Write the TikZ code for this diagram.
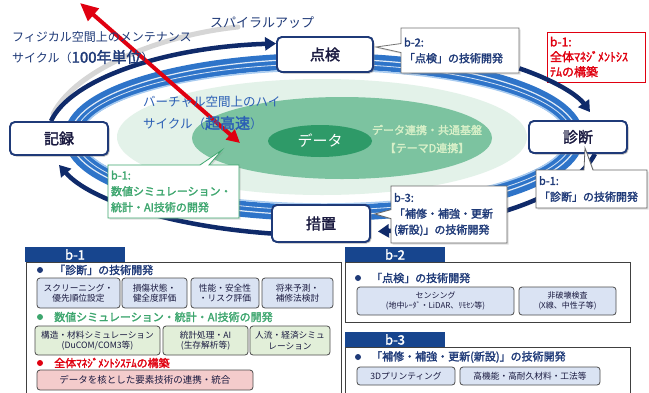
\documentclass[tikz,border=0pt]{standalone}
\usepackage{fontspec}
\setmainfont{Noto Sans CJK JP}[AutoFakeBold=2]
\usetikzlibrary{arrows.meta,shapes.callouts,shadows,calc}
\definecolor{navy}{HTML}{1F3A78}
\definecolor{dnavy}{HTML}{0F2A6A}
\definecolor{ringblue}{HTML}{2E74C9}
\definecolor{lightring}{HTML}{A8CBF0}
\definecolor{vblue}{HTML}{2B5FB5}
\definecolor{lgreen}{HTML}{E3F2E9}
\definecolor{mgreen}{HTML}{7CC3A0}
\definecolor{dgreen}{HTML}{2E9A68}
\definecolor{paletxt}{HTML}{D8F0C8}
\definecolor{cgreen}{HTML}{3DA66E}
\definecolor{redc}{HTML}{E00010}
\definecolor{tabnavy}{HTML}{17458E}
\definecolor{boxblue}{HTML}{DAE3F3}
\definecolor{boxgreen}{HTML}{E2EFD9}
\definecolor{boxpink}{HTML}{F4CCCC}
\definecolor{boxtxt}{HTML}{1A1A40}
\begin{document}
\begin{tikzpicture}[x=1pt,y=1pt,
  cyclebox/.style={draw=navy, line width=1.8pt, rounded corners=5pt, fill=white,
    font=\fontsize{15}{18}\selectfont\bfseries, text=boxtxt, inner sep=0pt,
    drop shadow={shadow xshift=1.5pt, shadow yshift=-1.5pt, opacity=.3}},
  callbox/.style={rectangle callout, draw=black!60, line width=0.8pt, fill=white,
    align=left, font=\fontsize{11}{16}\selectfont\bfseries, text=navy, inner sep=3pt,
    callout pointer width=9pt,
    drop shadow={shadow xshift=1.5pt, shadow yshift=-1.5pt, opacity=.25}},
  navyarc/.style={dnavy, line width=4.5pt, -{Triangle[width=13pt,length=11pt]}},
  panel/.style={draw=black!75, line width=0.9pt, fill=white, inner sep=0pt},
  tabbox/.style={fill=tabnavy, text=white, font=\fontsize{13}{13}\selectfont\bfseries,
    minimum width=100pt, inner sep=0pt},
  itemb/.style={draw=black!70, line width=0.8pt, rounded corners=3pt, align=center,
    inner sep=0pt, text=boxtxt, font=\fontsize{8.7}{10.5}\selectfont},
  hdr/.style={anchor=west, inner sep=0pt, font=\fontsize{11}{13}\selectfont\bfseries},
  bul/.style={circle, inner sep=0pt, minimum size=6pt}
]
\useasboundingbox (0,0) rectangle (649,-392);
\fill[white] (0,0) rectangle (649,-392);
\clip (0,0) rectangle (649,-392);

% green ellipses
\fill[lgreen] (322,-137) ellipse [x radius=205, y radius=58];
\fill[mgreen] (342,-138) ellipse [x radius=150, y radius=41];
\fill[dgreen] (320,-141) ellipse [x radius=52, y radius=16];

% blue ring
\draw[ringblue, line width=16pt] (324,-137) ellipse [x radius=252, y radius=76];
\draw[white, line width=1.2pt, opacity=.85] (324,-137) ellipse [x radius=254, y radius=78];
\draw[white, line width=0.8pt, opacity=.8] (324,-137) ellipse [x radius=249, y radius=73];
\draw[lightring, line width=1.5pt] (324,-137) ellipse [x radius=243, y radius=67];

% texts in the centre
\node[text=white, font=\fontsize{15}{15}\selectfont] (data) at (320,-141) {データ};
\node[text=paletxt, font=\fontsize{11}{13}\selectfont\bfseries] (base1) at (427,-130) {データ連携・共通基盤};
\node[text=paletxt, font=\fontsize{11}{13}\selectfont\bfseries] (base2) at (427,-148) {【テーマD連携】};

% cycle boxes
\node[cyclebox, minimum width=98pt, minimum height=33pt] (kiroku) at (59,-138.5) {記録};
\node[cyclebox, minimum width=96pt, minimum height=35pt] (tenken) at (325,-54.5) {点検};
\node[cyclebox, minimum width=98pt, minimum height=32pt] (shindan) at (578,-137) {診断};
\node[cyclebox, minimum width=98pt, minimum height=37pt] (sochi) at (321,-223.5) {措置};

% callouts
\node[callbox, draw=black!55, text width=112pt, minimum height=45pt,
  callout absolute pointer={(376,-47)}] (b2c) at (460,-50.5) {b-2:\\「点検」の技術開発};
\node[draw=redc, line width=0.9pt, fill=white, text=redc, align=left, text width=92pt,
  minimum height=50pt, inner sep=3pt, font=\fontsize{12}{15}\selectfont\bfseries]
  (b1r) at (596,-57) {b-1:\\全体ﾏﾈｼﾞﾒﾝﾄｼｽ\\ﾃﾑの構築};

% navy cycle arrows
\draw[gray!40, line width=5pt, opacity=.8, line cap=round] ([xshift=-6pt,yshift=7pt]kiroku.north)
  .. controls (75,-70) and (160,-35) .. (238,-27);
\draw[navyarc] ([xshift=-8pt]kiroku.north) .. controls (70,-80) and (161.5,-47.3) .. ([yshift=11pt]tenken.west);
\draw[navyarc] ([yshift=5pt]b2c.south east) .. controls (553.3,-79.9) and (577.4,-94.6) .. ([xshift=12pt,yshift=8pt]shindan.north);
\draw[navyarc] ([xshift=17pt]shindan.south) .. controls (573.7,-194.7) and (487.1,-225.6) .. ([xshift=7pt,yshift=-8pt]sochi.east);
\draw[navyarc] ([yshift=-10pt]sochi.west) .. controls (171.6,-226.4) and (89.9,-200.4) .. ([yshift=-9pt]kiroku.south);

% redraw boxes on top of arcs
\node[cyclebox, minimum width=98pt, minimum height=33pt] at (kiroku) {記録};
\node[cyclebox, minimum width=96pt, minimum height=35pt] at (tenken) {点検};
\node[cyclebox, minimum width=98pt, minimum height=32pt] at (shindan) {診断};
\node[cyclebox, minimum width=98pt, minimum height=37pt] at (sochi) {措置};

% red double arrow
\coordinate (redA) at (80,-3);
\coordinate (redB) at (240,-143);
\draw[redc, line width=4pt, {Triangle[width=16pt,length=18pt]}-{Triangle[width=13pt,length=13pt]}] (redA) -- (redB);

% top-left texts
\node[anchor=west, inner sep=0pt, text=navy, font=\fontsize{13}{15}\selectfont] (spiral) at (210,-23) {スパイラルアップ};
\node[anchor=west, inner sep=0pt, text=navy, font=\fontsize{12}{14}\selectfont] (phys1) at (12,-37) {フィジカル空間上のメンテナンス};
\node[anchor=west, inner sep=0pt, text=navy, font=\fontsize{12}{14}\selectfont] (phys2) at (12,-57) {サイクル（{\fontsize{15}{15}\selectfont\bfseries 100年単位}）};
\node[anchor=west, inner sep=0pt, text=vblue, font=\fontsize{12.5}{14}\selectfont] (virt1) at (143,-102) {バーチャル空間上のハイ};
\node[anchor=west, inner sep=0pt, text=vblue, font=\fontsize{12.5}{14}\selectfont] (virt2) at (143,-123) {サイクル（{\fontsize{15}{15}\selectfont\bfseries 超高速}）};

% callouts with pointers
\node[callbox, draw=cgreen, text=cgreen, text width=125pt, minimum height=53pt,
  callout absolute pointer={(222,-150)}] (b1g) at (173.5,-191.5) {b-1:\\数値シミュレーション・\\統計・AI技術の開発};
\node[callbox, text width=105pt, minimum height=38pt,
  callout absolute pointer={(585,-148)}] (b1d) at (591.5,-189) {b-1:\\「診断」の技術開発};
\node[callbox, text width=110pt, minimum height=57pt,
  callout absolute pointer={(375,-214)}] (b3c) at (449,-214.5) {b-3:\\「補修・補強・更新\\(新設)」の技術開発};

% ===== bottom panels =====
% b-1
\node[panel, minimum width=315pt, minimum height=140pt] (p1) at (183.5,-332) {};
\node[tabbox, minimum height=15pt] (t1) at (75,-254.5) {b-1\hspace{6pt}};
\node[bul, fill=navy] (u1) at (40,-270) {};
\node[hdr, text=navy] (h1) at (54,-270) {「診断」の技術開発};
\node[itemb, fill=boxblue, minimum width=83pt, minimum height=30pt] (i11) at (78.5,-293) {スクリーニング・\\優先順位設定};
\node[itemb, fill=boxblue, minimum width=65pt, minimum height=30pt] (i12) at (154.5,-293) {損傷状態・\\健全度評価};
\node[itemb, fill=boxblue, minimum width=68pt, minimum height=30pt] (i13) at (225,-293) {性能・安全性\\・リスク評価};
\node[itemb, fill=boxblue, minimum width=71pt, minimum height=30pt] (i14) at (297.5,-293) {将来予測・\\補修法検討};
\node[bul, fill=cgreen] (u2) at (40,-317) {};
\node[hdr, text=cgreen] (h2) at (54,-317) {数値シミュレーション・統計・AI技術の開発};
\node[itemb, fill=boxgreen, minimum width=125pt, minimum height=29pt] (i21) at (97.5,-340.5) {構造・材料シミュレーション\\(DuCOM/COM3等)};
\node[itemb, fill=boxgreen, minimum width=85pt, minimum height=29pt] (i22) at (205.5,-340.5) {統計処理・AI\\(生存解析等)};
\node[itemb, fill=boxgreen, minimum width=80pt, minimum height=29pt] (i23) at (290,-340.5) {人流・経済シミュ\\レーション};
\node[bul, fill=redc] (u3) at (40,-363) {};
\node[hdr, text=redc] (h3) at (54,-363) {全体ﾏﾈｼﾞﾒﾝﾄｼｽﾃﾑの構築};
\node[itemb, fill=boxpink, minimum width=216pt, minimum height=20pt, font=\fontsize{9.5}{11}\selectfont] (i31) at (145,-380) {データを核とした要素技術の連携・統合};

% b-2
\node[panel, minimum width=285pt, minimum height=60pt] (p2) at (487.5,-292) {};
\node[tabbox, minimum height=15pt] (t2) at (395,-254.5) {b-2\hspace{6pt}};
\node[bul, fill=navy] (u4) at (358,-278) {};
\node[hdr, text=navy] (h4) at (371,-278) {「点検」の技術開発};
\node[itemb, fill=boxblue, minimum width=157pt, minimum height=28pt, font=\fontsize{8}{9.5}\selectfont] (i41) at (435.5,-301) {センシング\\(地中ﾚｰﾀﾞ・LiDAR、ﾘﾓｾﾝ等)};
\node[itemb, fill=boxblue, minimum width=97pt, minimum height=28pt, font=\fontsize{8}{9.5}\selectfont] (i42) at (567.5,-301) {非破壊検査\\(X線、中性子等)};

% b-3
\node[panel, minimum width=285pt, minimum height=56pt] (p3) at (487.5,-375) {};
\node[tabbox, minimum height=15pt] (t3) at (395,-339.5) {b-3\hspace{6pt}};
\node[bul, fill=navy] (u5) at (358,-357) {};
\node[hdr, text=navy] (h5) at (371,-357) {「補修・補強・更新(新設)」の技術開発};
\node[itemb, fill=boxblue, minimum width=98pt, minimum height=18pt] (i51) at (406,-376) {3Dプリンティング};
\node[itemb, fill=boxblue, minimum width=140pt, minimum height=18pt] (i52) at (530,-376) {高機能・高耐久材料・工法等};
\end{tikzpicture}
\end{document}
